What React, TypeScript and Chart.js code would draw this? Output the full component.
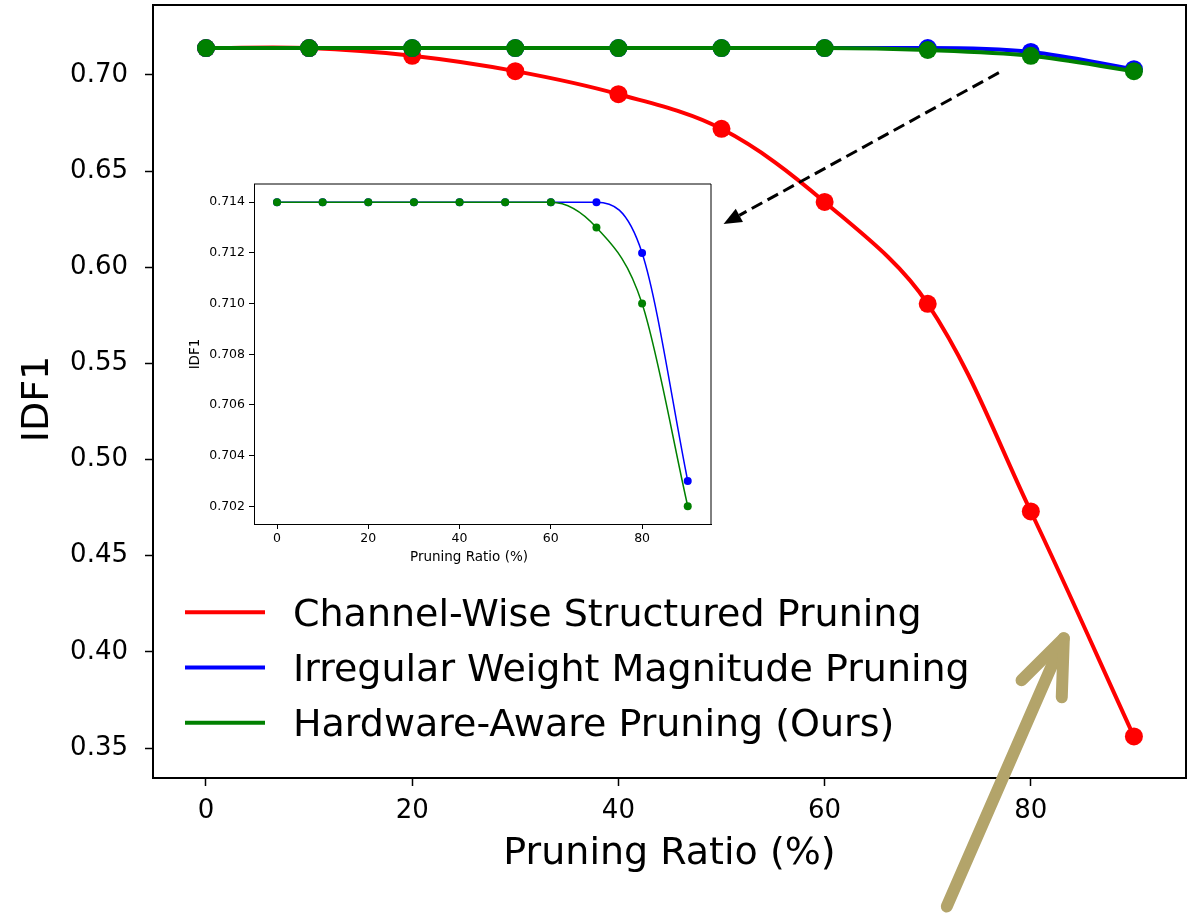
import React, { useEffect, useRef } from "react";
import { Chart, registerables } from "chart.js";

Chart.register(...registerables);

const FONT = "'DejaVu Sans', sans-serif";

// ---------- data ----------
const ratios = [0, 10, 20, 30, 40, 50, 60, 70, 80, 90];
const channelWise = [0.714, 0.714, 0.71, 0.702, 0.69, 0.672, 0.634, 0.581, 0.473, 0.356];
const irregular = [0.714, 0.714, 0.714, 0.714, 0.714, 0.714, 0.714, 0.714, 0.712, 0.703];
const hardwareAware = [0.714, 0.714, 0.714, 0.714, 0.714, 0.714, 0.714, 0.713, 0.71, 0.702];

const seriesLabels = [
  "Channel-Wise Structured Pruning",
  "Irregular Weight Magnitude Pruning",
  "Hardware-Aware Pruning (Ours)",
];
const seriesColors = ["#ff0000", "#0000ff", "#008000"];

const mainXTicks = [0, 20, 40, 60, 80];
const mainYTicks = [0.35, 0.4, 0.45, 0.5, 0.55, 0.6, 0.65, 0.7];
const insetXTicks = [0, 20, 40, 60, 80];
const insetYTicks = [0.702, 0.704, 0.706, 0.708, 0.71, 0.712, 0.714];

const xTitle = "Pruning Ratio (%)";
const yTitle = "IDF1";

// annotation anchors (data units of the main axes)
const zoomArrowFrom = [76.9, 0.7012];
const zoomArrowTo = [50.2, 0.6225];
const handArrowTail = [71.85, 0.2676];
const handArrowTip = [83.2, 0.4071];
const handArrowBarbL = [79.1, 0.3852];
const handArrowBarbR = [83.0, 0.3764];

const toPoints = (ys: number[]) => ratios.map((x, i) => ({ x, y: ys[i] }));
const allSeries = [channelWise, irregular, hardwareAware];

function makeDatasets(radius: number, width: number, redSmooth: boolean) {
  return allSeries.map((ys, i) => ({
    label: seriesLabels[i],
    data: toPoints(ys),
    borderColor: seriesColors[i],
    backgroundColor: seriesColors[i],
    pointBackgroundColor: seriesColors[i],
    pointBorderWidth: 0,
    pointRadius: radius,
    borderWidth: width,
    cubicInterpolationMode: (i === 0 && redSmooth ? "default" : "monotone") as any,
    tension: 0.35,
    order: 3 - i,
  }));
}

const zeroPad = (s: any) => {
  s.paddingTop = 0;
  s.paddingBottom = 0;
  s.paddingLeft = 0;
  s.paddingRight = 0;
};

const framePlugin = (lw: number) => ({
  id: "frame",
  afterDraw(chart: any) {
    const { ctx, chartArea: a } = chart;
    ctx.save();
    ctx.strokeStyle = "#000";
    ctx.lineWidth = lw;
    ctx.beginPath();
    ctx.moveTo(a.left, a.top);
    ctx.lineTo(a.right, a.top);
    ctx.lineTo(a.right, a.bottom);
    ctx.stroke();
    ctx.restore();
  },
});

const whiteBg = {
  id: "whiteBg",
  beforeDraw(chart: any) {
    const { ctx, chartArea: a } = chart;
    ctx.save();
    ctx.fillStyle = "#fff";
    ctx.fillRect(a.left, a.top, a.right - a.left, a.bottom - a.top);
    ctx.restore();
  },
};

const insetXTitle = {
  id: "insetXTitle",
  afterDraw(chart: any) {
    const { ctx, chartArea: a } = chart;
    ctx.save();
    ctx.font = `13.5px ${FONT}`;
    ctx.fillStyle = "#000";
    ctx.textAlign = "center";
    ctx.textBaseline = "middle";
    ctx.fillText(xTitle, (a.left + a.right) / 2 - 13.5, a.bottom + 33);
    ctx.restore();
  },
};

const annotationsPlugin = {
  id: "annots",
  afterDraw(chart: any) {
    const { ctx, chartArea: a } = chart;
    const xs = chart.scales.x;
    const ys = chart.scales.y;
    const P = (p: number[]) => [xs.getPixelForValue(p[0]), ys.getPixelForValue(p[1])];

    // y-axis title
    ctx.save();
    ctx.translate(38.6, (a.top + a.bottom) / 2 + 7.5);
    ctx.rotate(-Math.PI / 2);
    ctx.font = `38px ${FONT}`;
    ctx.fillStyle = "#000";
    ctx.textAlign = "center";
    ctx.textBaseline = "middle";
    ctx.fillText(yTitle, 0, 0);
    ctx.restore();

    // legend
    ctx.save();
    ctx.font = `38px ${FONT}`;
    ctx.textBaseline = "alphabetic";
    ctx.textAlign = "left";
    for (let i = 0; i < seriesLabels.length; i++) {
      const y = 612.3 + i * 55.2;
      ctx.strokeStyle = seriesColors[i];
      ctx.lineWidth = 4;
      ctx.beginPath();
      ctx.moveTo(185, y);
      ctx.lineTo(265, y);
      ctx.stroke();
      ctx.fillStyle = "#000";
      ctx.fillText(seriesLabels[i], 293, y + 13.6);
    }
    ctx.restore();

    // dashed zoom arrow
    const [x1, y1] = P(zoomArrowFrom);
    const [x2, y2] = P(zoomArrowTo);
    const ang = Math.atan2(y2 - y1, x2 - x1);
    const hl = 18, hw = 7.5;
    const bx = x2 - hl * Math.cos(ang), by = y2 - hl * Math.sin(ang);
    ctx.save();
    ctx.strokeStyle = "#000";
    ctx.lineWidth = 3;
    ctx.setLineDash([12, 6]);
    ctx.beginPath();
    ctx.moveTo(x1, y1);
    ctx.lineTo(bx, by);
    ctx.stroke();
    ctx.setLineDash([]);
    ctx.fillStyle = "#000";
    ctx.beginPath();
    ctx.moveTo(x2, y2);
    ctx.lineTo(bx + hw * Math.sin(ang), by - hw * Math.cos(ang));
    ctx.lineTo(bx - hw * Math.sin(ang), by + hw * Math.cos(ang));
    ctx.closePath();
    ctx.fill();
    ctx.restore();

    // hand-drawn tan arrow
    const t = P(handArrowTail), tip = P(handArrowTip), bl = P(handArrowBarbL), br = P(handArrowBarbR);
    ctx.save();
    ctx.strokeStyle = "#b3a46a";
    ctx.lineWidth = 12;
    ctx.lineCap = "round";
    ctx.lineJoin = "round";
    ctx.beginPath();
    ctx.moveTo(t[0], t[1]);
    ctx.lineTo(tip[0], tip[1]);
    ctx.stroke();
    ctx.beginPath();
    ctx.moveTo(bl[0], bl[1]);
    ctx.lineTo(tip[0], tip[1]);
    ctx.lineTo(br[0], br[1]);
    ctx.stroke();
    ctx.restore();
  },
};

function mainConfig(): any {
  return {
    type: "line",
    data: { datasets: makeDatasets(9, 4, true) },
    options: {
      responsive: false,
      animation: false,
      devicePixelRatio: 1,
      layout: { autoPadding: false, padding: { left: 0, top: 5, right: 2, bottom: 0 } },
      plugins: { legend: { display: false }, tooltip: { enabled: false } },
      scales: {
        x: {
          type: "linear",
          min: -5.14,
          max: 95.05,
          afterBuildTicks: (s: any) => {
            s.ticks = mainXTicks.map((v) => ({ value: v }));
          },
          afterFit: (s: any) => {
            s.height = 141;
            zeroPad(s);
          },
          ticks: {
            font: { family: FONT, size: 26 },
            color: "#000",
            padding: 10,
            autoSkip: false,
            maxRotation: 0,
            callback: (v: any) => String(v),
          },
          grid: { drawOnChartArea: false, drawTicks: true, tickLength: 8, tickWidth: 1.5, tickColor: "#000" },
          border: { display: true, color: "#000", width: 2 },
          title: {
            display: true,
            text: xTitle,
            font: { family: FONT, size: 38 },
            color: "#000",
            padding: { top: 0, bottom: 42.2 },
          },
        },
        y: {
          type: "linear",
          min: 0.3344,
          max: 0.7364,
          afterBuildTicks: (s: any) => {
            s.ticks = mainYTicks.map((v) => ({ value: v }));
          },
          afterFit: (s: any) => {
            s.width = 153;
            zeroPad(s);
          },
          ticks: {
            font: { family: FONT, size: 26 },
            color: "#000",
            padding: 17,
            autoSkip: false,
            callback: (v: any) => Number(v).toFixed(2),
          },
          grid: { drawOnChartArea: false, drawTicks: true, tickLength: 8, tickWidth: 1.5, tickColor: "#000" },
          border: { display: true, color: "#000", width: 2 },
          title: { display: false, text: yTitle },
        },
      },
    },
    plugins: [framePlugin(2), annotationsPlugin],
  };
}

function insetConfig(): any {
  return {
    type: "line",
    data: { datasets: makeDatasets(4, 1.5, false).slice(1) },
    options: {
      responsive: false,
      animation: false,
      devicePixelRatio: 1,
      layout: { autoPadding: false, padding: { left: 0, top: 14, right: 19, bottom: 0 } },
      plugins: { legend: { display: false }, tooltip: { enabled: false } },
      scales: {
        x: {
          type: "linear",
          min: -5.04,
          max: 95.1,
          afterBuildTicks: (s: any) => {
            s.ticks = insetXTicks.map((v) => ({ value: v }));
          },
          afterFit: (s: any) => {
            s.height = 56;
            zeroPad(s);
          },
          ticks: {
            font: { family: FONT, size: 12.5 },
            color: "#000",
            padding: 2.5,
            autoSkip: false,
            maxRotation: 0,
            callback: (v: any) => String(v),
          },
          grid: { drawOnChartArea: false, drawTicks: true, tickLength: 5, tickWidth: 1, tickColor: "#000" },
          border: { display: true, color: "#000", width: 1 },
          title: { display: false, text: xTitle },
        },
        y: {
          type: "linear",
          min: 0.7013,
          max: 0.71472,
          afterBuildTicks: (s: any) => {
            s.ticks = insetYTicks.map((v) => ({ value: v }));
          },
          afterFit: (s: any) => {
            s.width = 84;
            zeroPad(s);
          },
          ticks: {
            font: { family: FONT, size: 12.5 },
            color: "#000",
            padding: 4,
            autoSkip: false,
            callback: (v: any) => Number(v).toFixed(3),
          },
          grid: { drawOnChartArea: false, drawTicks: true, tickLength: 5, tickWidth: 1, tickColor: "#000" },
          border: { display: true, color: "#000", width: 1 },
          title: {
            display: true,
            text: yTitle,
            font: { family: FONT, size: 13.5 },
            color: "#000",
            padding: { top: 17.4, bottom: 0 },
          },
        },
      },
    },
    plugins: [whiteBg, framePlugin(1), insetXTitle],
  };
}

export default function App() {
  const mainRef = useRef<HTMLCanvasElement>(null);
  const insetRef = useRef<HTMLCanvasElement>(null);

  useEffect(() => {
    const main = new Chart(mainRef.current as HTMLCanvasElement, mainConfig());
    const inset = new Chart(insetRef.current as HTMLCanvasElement, insetConfig());
    return () => {
      main.destroy();
      inset.destroy();
    };
  }, []);

  return (
    <div style={{ position: "absolute", left: 0, top: 0, width: 1188, height: 919, background: "#fff" }}>
      <canvas ref={mainRef} width={1188} height={919} style={{ position: "absolute", left: 0, top: 0 }} />
      <canvas ref={insetRef} width={560} height={410} style={{ position: "absolute", left: 170, top: 170 }} />
    </div>
  );
}
